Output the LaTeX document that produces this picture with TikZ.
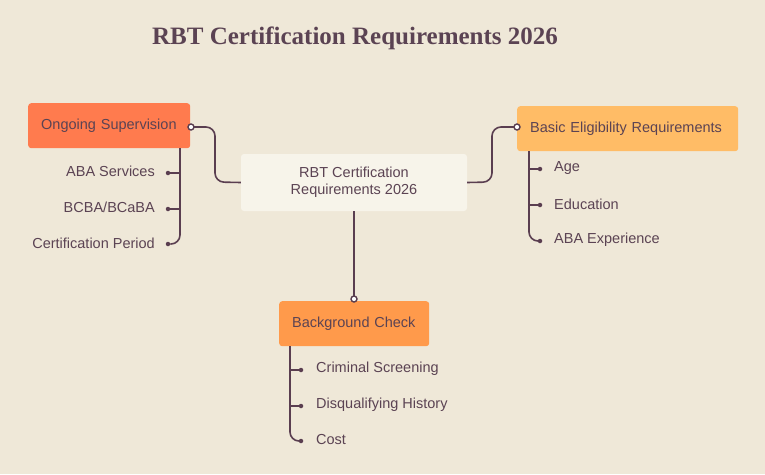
\documentclass[tikz,border=0pt]{standalone}
\usepackage{fontspec}
\setmainfont{Liberation Sans}
\newfontfamily\titlefont{Liberation Serif}
\begin{document}
\definecolor{bg}{HTML}{EFE8D8}
\definecolor{ln}{HTML}{5A3E50}
\definecolor{tx}{HTML}{5B4353}
\definecolor{cos}{HTML}{FF7B4E}
\definecolor{cbe}{HTML}{FFBC66}
\definecolor{cbc}{HTML}{FF9A4B}
\definecolor{cc}{HTML}{F7F4EA}
\begin{tikzpicture}[x=1pt,y=-1pt,
  box/.style={rounded corners=3pt,inner ysep=0pt,inner xsep=13pt,text=tx,font=\fontsize{14.5}{17}\selectfont},
  lbl/.style={text=tx,font=\fontsize{14.5}{17}\selectfont,inner sep=0pt},
  conn/.style={draw=ln,line width=1.6pt,rounded corners=9pt},
  dot/.style={circle,fill=ln,inner sep=0pt,minimum size=4.5pt},
  ring/.style={circle,draw=ln,fill=white,line width=1.4pt,inner sep=0pt,minimum size=6pt}]
\fill[bg] (0,0) rectangle (765,474);
\node[text=tx,font=\titlefont\bfseries\fontsize{25}{29}\selectfont] (title) at (355,38) {RBT Certification Requirements 2026};
\node[box,fill=cc,minimum width=226pt,minimum height=57pt,align=center,inner xsep=0pt] (c) at (354,182.5) {RBT Certification\\Requirements 2026};
\node[box,fill=cos,minimum width=162pt,minimum height=45pt,anchor=north west,text width=136pt,align=left] (os) at (28,103) {Ongoing Supervision};
\node[box,fill=cbe,minimum width=221pt,minimum height=45pt,anchor=north west,text width=195pt,align=left] (be) at (517,106) {Basic Eligibility Requirements};
\node[box,fill=cbc,minimum width=150pt,minimum height=45pt,anchor=north west,text width=124pt,align=left] (bc) at (279,301) {Background Check};
\coordinate (osr) at (191,127);
\coordinate (ber) at (517,127);
\coordinate (bct) at (354,299);
\draw[conn] (osr) -- (215,127) -- (215,182) -- (c.west);
\draw[conn] (c.east) -- (492,182) -- (492,127) -- (ber);
\draw[conn] (c.south) -- (bct);
\node[ring] at (osr) {};
\node[ring] at (ber) {};
\node[ring] at (bct) {};
% left children
\node[dot] (l1) at (168,173) {}; \node[dot] (l2) at (168,209) {}; \node[dot] (l3) at (168,244) {};
\draw[conn] (180,148) -- (180,244) -- (l3);
\draw[conn,rounded corners=0pt] (180,173) -- (l1); \draw[conn,rounded corners=0pt] (180,209) -- (l2);
\node[lbl,anchor=east] at (155,171) {ABA Services};
\node[lbl,anchor=east] at (155,207.5) {BCBA/BCaBA};
\node[lbl,anchor=east] at (155,243) {Certification Period};
% right children
\node[dot] (r1) at (540,169) {}; \node[dot] (r2) at (540,205) {}; \node[dot] (r3) at (540,241) {};
\draw[conn] (529,151) -- (529,241) -- (r3);
\draw[conn,rounded corners=0pt] (529,169) -- (r1); \draw[conn,rounded corners=0pt] (529,205) -- (r2);
\node[lbl,anchor=west] at (554,168) {Age};
\node[lbl,anchor=west] at (554,204) {Education};
\node[lbl,anchor=west] at (554,240) {ABA Experience};
% bottom children
\node[dot] (b1) at (301,370) {}; \node[dot] (b2) at (301,406) {}; \node[dot] (b3) at (301,441) {};
\draw[conn] (290,346) -- (290,441) -- (b3);
\draw[conn,rounded corners=0pt] (290,370) -- (b1); \draw[conn,rounded corners=0pt] (290,406) -- (b2);
\node[lbl,anchor=west] at (316,369) {Criminal Screening};
\node[lbl,anchor=west] at (316,405) {Disqualifying History};
\node[lbl,anchor=west] at (316,440) {Cost};
\end{tikzpicture}
\end{document}
